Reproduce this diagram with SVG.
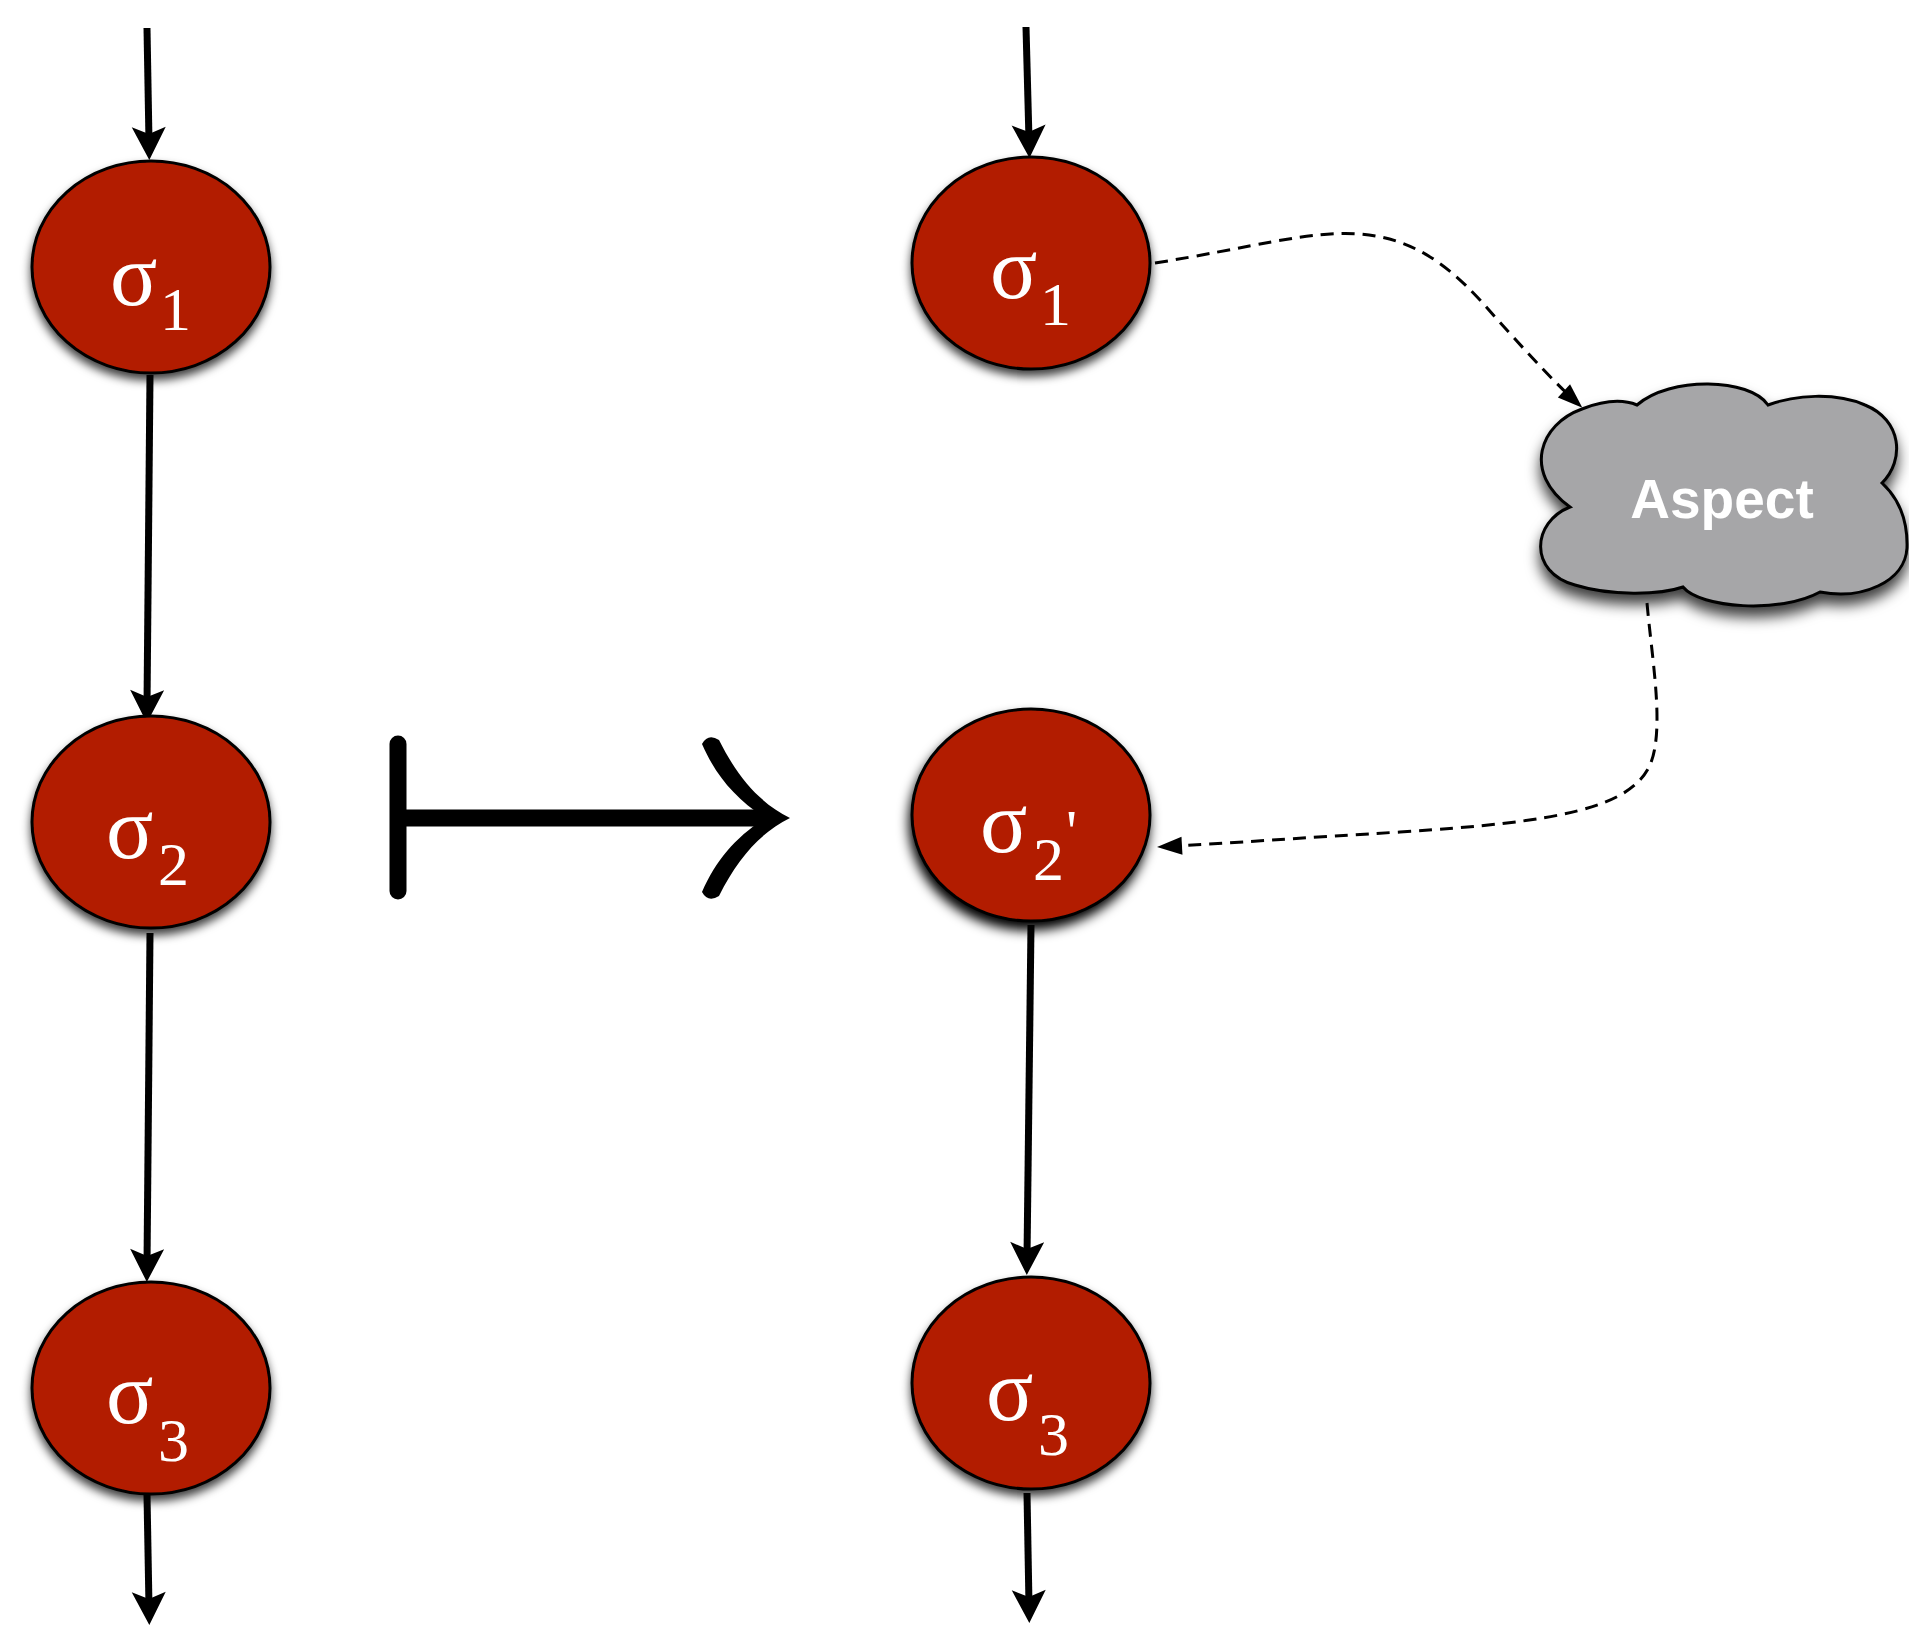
<svg xmlns="http://www.w3.org/2000/svg" width="1909" height="1626" viewBox="0 0 1909 1626">
  <style>
    .state { fill: #b21b01; stroke: #000; stroke-width: 3; }
    .sig { font-family: "Liberation Serif", "DejaVu Serif", serif; fill: #fff; }
    .big { font-size: 88px; }
    .sub { font-size: 62px; }
    .flow { fill: none; stroke: #000; stroke-width: 7; }
    .advice { fill: none; stroke: #000; stroke-width: 3; stroke-dasharray: 13 8; }
    .cloud { fill: #a6a6a8; stroke: #000; stroke-width: 3; }
    .label { font-family: "Liberation Sans", Arial, sans-serif; font-weight: bold; font-size: 55px; fill: #fff; }
  </style>
  <defs>
    <filter id="shade" x="-20%" y="-20%" width="140%" height="150%">
      <feDropShadow dx="0" dy="6" stdDeviation="5" flood-color="#000" flood-opacity="0.75"/>
    </filter>
    <filter id="shadeStrong" x="-20%" y="-20%" width="140%" height="150%">
      <feDropShadow dx="-2" dy="8" stdDeviation="6" flood-color="#000" flood-opacity="1"/>
    </filter>
    <filter id="cloudShade" x="-20%" y="-20%" width="140%" height="150%">
      <feDropShadow dx="0" dy="10" stdDeviation="7" flood-color="#000" flood-opacity="0.75"/>
    </filter>
    <marker id="head" markerUnits="userSpaceOnUse" orient="auto" refX="0" refY="0" markerWidth="60" markerHeight="60" overflow="visible">
      <path d="M18,0 L-15,-17 L-8,0 L-15,17 Z" fill="#000"/>
    </marker>
    <marker id="headSmall" markerUnits="userSpaceOnUse" orient="auto" refX="0" refY="0" markerWidth="40" markerHeight="40" overflow="visible">
      <path d="M10,0 L-15,-9 L-15,9 Z" fill="#000"/>
    </marker>
  </defs>

  <rect width="1909" height="1626" fill="#fff"/>

  <!-- solid flow arrows and dashed advice arrows -->
  <g id="connectors">
    <path class="flow" d="M147,28 L149,142" marker-end="url(#head)"/>
    <path class="flow" d="M150,375 L147,705" marker-end="url(#head)"/>
    <path class="flow" d="M150,933 L147,1264" marker-end="url(#head)"/>
    <path class="flow" d="M147,1495 L149,1607" marker-end="url(#head)"/>

    <path class="flow" d="M1026,27 L1029,140" marker-end="url(#head)"/>
    <path class="flow" d="M1031,925 L1027,1257" marker-end="url(#head)"/>
    <path class="flow" d="M1027,1493 L1029,1605" marker-end="url(#head)"/>

    <path class="advice" d="M1155,263 C1250,248 1310,230 1360,234 C1410,238 1445,262 1480,300 C1520,345 1550,378 1575,401" marker-end="url(#headSmall)"/>
    <path class="advice" d="M1647,603 C1652,660 1665,730 1650,765 C1630,808 1560,822 1400,832 C1300,838 1230,843 1167,846.5" marker-end="url(#headSmall)"/>
  </g>

  <!-- maps-to symbol between the two traces -->
  <g id="mapsto">
    <line x1="398" y1="744" x2="398" y2="891" stroke="#000" stroke-width="17" stroke-linecap="round"/>
    <line x1="398" y1="818" x2="770" y2="818" stroke="#000" stroke-width="17"/>
    <path d="M702,744 Q708,733 719,740 C738,778 760,803 790,818 C760,833 738,858 719,896 Q708,903 702,892 C716,860 735,838 765,818 C735,798 716,776 702,744 Z" fill="#000"/>
  </g>

  <!-- original trace -->
  <g id="s1-left">
    <ellipse class="state" cx="151" cy="267" rx="119" ry="106" filter="url(#shade)"/>
    <text class="sig"><tspan class="big" x="110" y="305">σ</tspan><tspan class="sub" x="160" y="330">1</tspan></text>
  </g>
  <g id="s2-left">
    <ellipse class="state" cx="151" cy="822" rx="119" ry="106" filter="url(#shade)"/>
    <text class="sig"><tspan class="big" x="106" y="858">σ</tspan><tspan class="sub" x="158" y="885">2</tspan></text>
  </g>
  <g id="s3-left">
    <ellipse class="state" cx="151" cy="1388" rx="119" ry="106" filter="url(#shade)"/>
    <text class="sig"><tspan class="big" x="106" y="1423">σ</tspan><tspan class="sub" x="158" y="1461">3</tspan></text>
  </g>

  <!-- woven trace -->
  <g id="s1-right">
    <ellipse class="state" cx="1031" cy="263" rx="119" ry="106" filter="url(#shade)"/>
    <text class="sig"><tspan class="big" x="990" y="298">σ</tspan><tspan class="sub" x="1040" y="325">1</tspan></text>
  </g>
  <g id="s2-prime">
    <ellipse class="state" cx="1031" cy="815" rx="119" ry="106" filter="url(#shadeStrong)"/>
    <text class="sig"><tspan class="big" x="980" y="852">σ</tspan><tspan class="sub" x="1033" y="880">2</tspan><tspan class="sub" x="1066" y="852">'</tspan></text>
  </g>
  <g id="s3-right">
    <ellipse class="state" cx="1031" cy="1383" rx="119" ry="106" filter="url(#shade)"/>
    <text class="sig"><tspan class="big" x="986" y="1420">σ</tspan><tspan class="sub" x="1038" y="1455">3</tspan></text>
  </g>

  <g id="aspect">
    <path class="cloud" filter="url(#cloudShade)" d="M1637,405 C1620,398 1600,402 1582,409 C1540,424 1522,472 1570,507 C1532,522 1528,572 1575,585 C1610,596 1660,595 1683,587 C1700,608 1780,614 1820,592 C1862,600 1905,582 1907,548 C1908,515 1895,495 1882,483 C1905,460 1902,420 1865,405 C1835,392 1795,395 1768,405 C1750,378 1670,376 1637,405 Z"/>
    <text class="label" x="1722" y="518" text-anchor="middle">Aspect</text>
  </g>
</svg>
